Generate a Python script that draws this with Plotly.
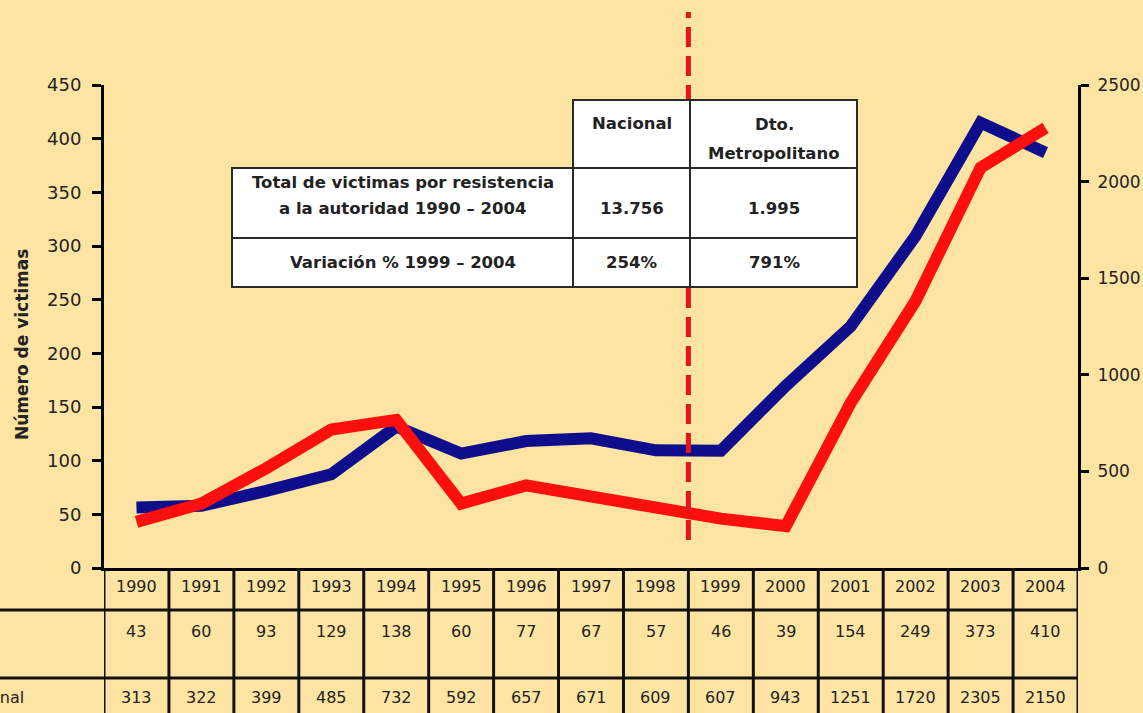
import plotly.graph_objects as go

# ---------------- data ----------------
years = [1990, 1991, 1992, 1993, 1994, 1995, 1996, 1997, 1998, 1999, 2000, 2001, 2002, 2003, 2004]
dto_metropolitano = [43, 60, 93, 129, 138, 60, 77, 67, 57, 46, 39, 154, 249, 373, 410]
nacional = [313, 322, 399, 485, 732, 592, 657, 671, 609, 607, 943, 1251, 1720, 2305, 2150]
left_ticks = [0, 50, 100, 150, 200, 250, 300, 350, 400, 450]
right_ticks = [0, 500, 1000, 1500, 2000, 2500]
left_title = "Número de victimas"
row_label_nacional = "Nacional"

inset_header = ["Nacional", "Dto.|Metropolitano"]
inset_row_labels = ["Total de victimas por resistencia|a la autoridad 1990 – 2004", "Variación % 1999 – 2004"]
inset_nacional = ["13.756", "254%"]
inset_metro = ["1.995", "791%"]
divide_between = (1998, 1999)

# ---------------- layout helpers ----------------
W, H = 1143, 713
L, R, T, B = 104, 1078, 85, 568


def px(x):
    return (x - L) / (R - L)


def py(y):
    return (B - y) / (B - T)


BG = "#FDE4A3"
BLUE = "#0E0E8C"
RED = "#FF0E0E"
TXT = "#222222"
FONT = "DejaVu Sans"

fig = go.Figure()
fig.add_trace(go.Scatter(x=years, y=nacional, yaxis="y", mode="lines",
                         line=dict(color=BLUE, width=12), name="Nacional",
                         hoverinfo="x+y"))
fig.add_trace(go.Scatter(x=years, y=dto_metropolitano, yaxis="y2", mode="lines",
                         line=dict(color=RED, width=12), name="Dto. Metropolitano",
                         hoverinfo="x+y"))

axis_common = dict(showgrid=False, zeroline=False, tickcolor="black", tickwidth=3)

fig.update_layout(
    width=W, height=H,
    margin=dict(l=L, r=W - R, t=T, b=H - B, autoexpand=False),
    paper_bgcolor=BG, plot_bgcolor=BG,
    showlegend=False,
    font=dict(family=FONT, color=TXT),
    xaxis=dict(range=[years[0] - 0.5, years[-1] + 0.5], showline=True, linewidth=3,
               linecolor="black", showticklabels=False, ticks="", showgrid=False,
               zeroline=False, fixedrange=True),
    yaxis=dict(side="right", range=[0, right_ticks[-1]], tickvals=right_ticks,
               ticks="outside", ticklen=8, showline=True, linewidth=3, linecolor="black",
               tickfont=dict(family=FONT, size=17, color=TXT), ticklabelstandoff=5,
               **axis_common),
    yaxis2=dict(side="left", overlaying="y", range=[0, left_ticks[-1]], tickvals=left_ticks,
                ticks="outside", ticklen=9, showline=True, linewidth=3, linecolor="black",
                tickfont=dict(family=FONT, size=18, color=TXT), ticklabelstandoff=7,
                **axis_common),
    yaxis3=dict(side="left", overlaying="y", range=[0, left_ticks[-1]], tickvals=left_ticks,
                ticks="inside", ticklen=10, showticklabels=False, showline=False,
                **axis_common),
    yaxis4=dict(side="right", overlaying="y", range=[0, right_ticks[-1]], tickvals=right_ticks,
                ticks="inside", ticklen=9, showticklabels=False, showline=False,
                **axis_common),
)

shapes = []
annotations = []

# dashed separator line (behind inset table)
xdiv = (divide_between[0] + divide_between[1]) / 2
shapes.append(dict(type="line", xref="x", yref="paper", x0=xdiv, x1=xdiv,
                   y0=py(540), y1=py(12), layer="above",
                   line=dict(color="#E8141C", width=5, dash="20px,9px")))

# ---------------- bottom data table ----------------
for yr in years + [years[-1] + 1]:
    shapes.append(dict(type="line", xref="x", yref="paper", x0=yr - 0.5, x1=yr - 0.5,
                       y0=0, y1=py(H + 2), layer="above",
                       line=dict(color="#111111", width=3)))
for yline in (610, 678):
    shapes.append(dict(type="line", xref="paper", yref="paper", x0=px(-2), x1=1,
                       y0=py(yline), y1=py(yline), layer="above",
                       line=dict(color="#111111", width=3)))

TF = dict(size=16, color=TXT)
for yr, vm, vn in zip(years, dto_metropolitano, nacional):
    annotations.append(dict(xref="x", yref="paper", x=yr, y=py(586), text=str(yr),
                            xanchor="center", yanchor="middle", showarrow=False, font=TF))
    annotations.append(dict(xref="x", yref="paper", x=yr, y=py(631), text=str(vm),
                            xanchor="center", yanchor="middle", showarrow=False, font=TF))
    annotations.append(dict(xref="x", yref="paper", x=yr, y=py(697), text=str(vn),
                            xanchor="center", yanchor="middle", showarrow=False, font=TF))
annotations.append(dict(xref="paper", yref="paper", x=px(26), y=py(697), xanchor="right",
                        yanchor="middle", text=row_label_nacional, showarrow=False, font=TF))

# axis title
annotations.append(dict(xref="paper", yref="paper", x=px(22), y=py(345), text=left_title,
                        textangle=-90, showarrow=False, xanchor="center", yanchor="middle",
                        font=dict(size=17, color=TXT, weight="bold")))

# ---------------- inset summary table ----------------
LINE = dict(color="#2a2a2a", width=2)
x_a, x_b, x_c, x_d = 232, 573, 690, 857
y_a, y_b, y_c, y_d = 100, 168, 238, 287
shapes.append(dict(type="rect", xref="paper", yref="paper", x0=px(x_b), x1=px(x_d),
                   y0=py(y_b), y1=py(y_a), fillcolor="white", line=LINE, layer="above"))
shapes.append(dict(type="rect", xref="paper", yref="paper", x0=px(x_a), x1=px(x_d),
                   y0=py(y_d), y1=py(y_b), fillcolor="white", line=LINE, layer="above"))
for yl in (y_b, y_c):
    shapes.append(dict(type="line", xref="paper", yref="paper", x0=px(x_a), x1=px(x_d),
                       y0=py(yl), y1=py(yl), line=LINE, layer="above"))
for xl in (x_b, x_c):
    shapes.append(dict(type="line", xref="paper", yref="paper", x0=px(xl), x1=px(xl),
                       y0=py(y_d), y1=py(y_a), line=LINE, layer="above"))

BF = dict(size=16.5, color=TXT, weight="bold")


def cell_text(xc, yc, text):
    annotations.append(dict(xref="paper", yref="paper", x=px(xc), y=py(yc), text=text,
                            xanchor="center", yanchor="middle", showarrow=False, font=BF))


cx_n = (x_b + x_c) / 2
cx_m = (x_c + x_d) / 2 + 0.5
cx_l = (x_a + x_b) / 2
cell_text(cx_n, 123, inset_header[0])
h2 = inset_header[1].split("|")
cell_text(cx_m, 125, h2[0])
cell_text(cx_m, 153, h2[1])
r1 = inset_row_labels[0].split("|")
cell_text(cx_l, 182, r1[0])
cell_text(cx_l, 208, r1[1])
cell_text(cx_l, 262, inset_row_labels[1])
cell_text(cx_n, 208, inset_nacional[0])
cell_text(cx_m, 208, inset_metro[0])
cell_text(cx_n, 262, inset_nacional[1])
cell_text(cx_m, 262, inset_metro[1])

fig.update_layout(shapes=shapes, annotations=annotations)

fig.write_html("out.html", config={"displayModeBar": False},
               post_script="document.body.style.margin='0px';")
